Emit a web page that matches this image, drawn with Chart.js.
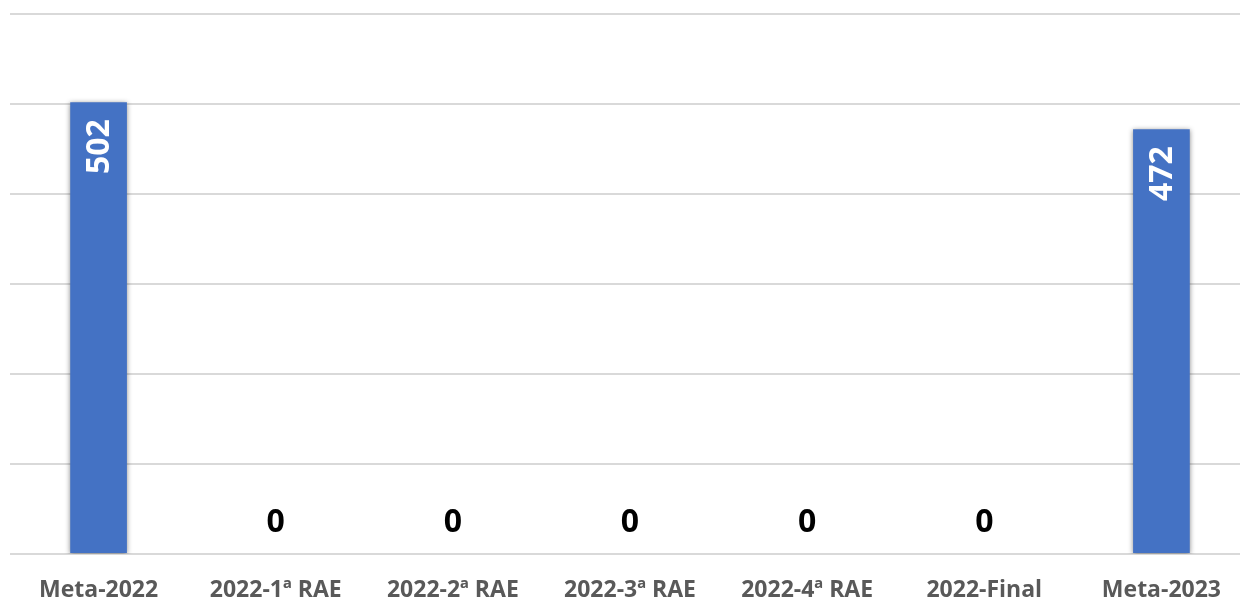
<!DOCTYPE html>
<html>
<head>
<meta charset="utf-8">
<script src="https://cdn.jsdelivr.net/npm/chart.js@4.4.0/dist/chart.umd.min.js"></script>
<style>
  html, body { margin: 0; padding: 0; background: #fff; overflow: hidden; }
  #wrap { width: 1250px; height: 600px; }
</style>
</head>
<body>
<div id="wrap"><canvas id="myChart"></canvas></div>
<script>
// datos del gráfico
const categorias = ['Meta-2022', '2022-1ª RAE', '2022-2ª RAE', '2022-3ª RAE', '2022-4ª RAE', '2022-Final', 'Meta-2023'];
const valores = [502, 0, 0, 0, 0, 0, 472];
const ejeMax = 600;
const ejePaso = 100;

// etiquetas de valor: dentro de la barra (giradas) o encima si vale 0
const etiquetasPlugin = {
  id: 'etiquetas',
  beforeDatasetsDraw(chart) {
    const ctx = chart.ctx;
    ctx.save();
    ctx.shadowColor = 'rgba(0,0,0,0.45)';
    ctx.shadowBlur = 5;
    ctx.shadowOffsetX = 0;
    ctx.shadowOffsetY = 1;
  },
  afterDatasetsDraw(chart) {
    const ctx = chart.ctx;
    ctx.restore();
    const meta = chart.getDatasetMeta(0);
    meta.data.forEach((bar, i) => {
      const v = valores[i];
      ctx.save();
      ctx.font = 'bold 32px "Open Sans", "Noto Sans", sans-serif';
      if (v > 0) {
        ctx.fillStyle = '#ffffff';
        ctx.translate(bar.x, bar.y + 17);
        ctx.rotate(-Math.PI / 2);
        ctx.textAlign = 'right';
        ctx.textBaseline = 'middle';
        ctx.fillText(String(v), 0, 1);
      } else {
        ctx.fillStyle = '#000000';
        ctx.textAlign = 'center';
        ctx.textBaseline = 'middle';
        ctx.fillText(String(v), bar.x, bar.y - 31);
      }
      ctx.restore();
    });
  }
};

const ctx = document.getElementById('myChart');
new Chart(ctx, {
  type: 'bar',
  data: {
    labels: categorias,
    datasets: [{
      data: valores,
      backgroundColor: '#4472C4',
      borderWidth: 0,
      categoryPercentage: 1,
      barPercentage: 0.32
    }]
  },
  options: {
    responsive: true,
    maintainAspectRatio: false,
    animation: false,
    layout: { padding: { top: 14, left: 10, right: 0, bottom: 0 } },
    plugins: {
      legend: { display: false },
      tooltip: { enabled: false }
    },
    scales: {
      x: {
        grid: { display: false, drawTicks: false },
        border: { display: false },
        ticks: {
          color: '#595959',
          padding: 23,
          font: { family: '"Open Sans", "Noto Sans", sans-serif', size: 23, weight: 'bold' }
        },
        afterFit(scale) { scale.height = 46; }
      },
      y: {
        min: 0,
        max: ejeMax,
        ticks: { display: false, stepSize: ejePaso },
        grid: { color: '#D9D9D9', lineWidth: 2, drawTicks: false },
        border: { display: false },
        afterFit(scale) { scale.width = 0; }
      }
    }
  },
  plugins: [etiquetasPlugin]
});
</script>
</body>
</html>
